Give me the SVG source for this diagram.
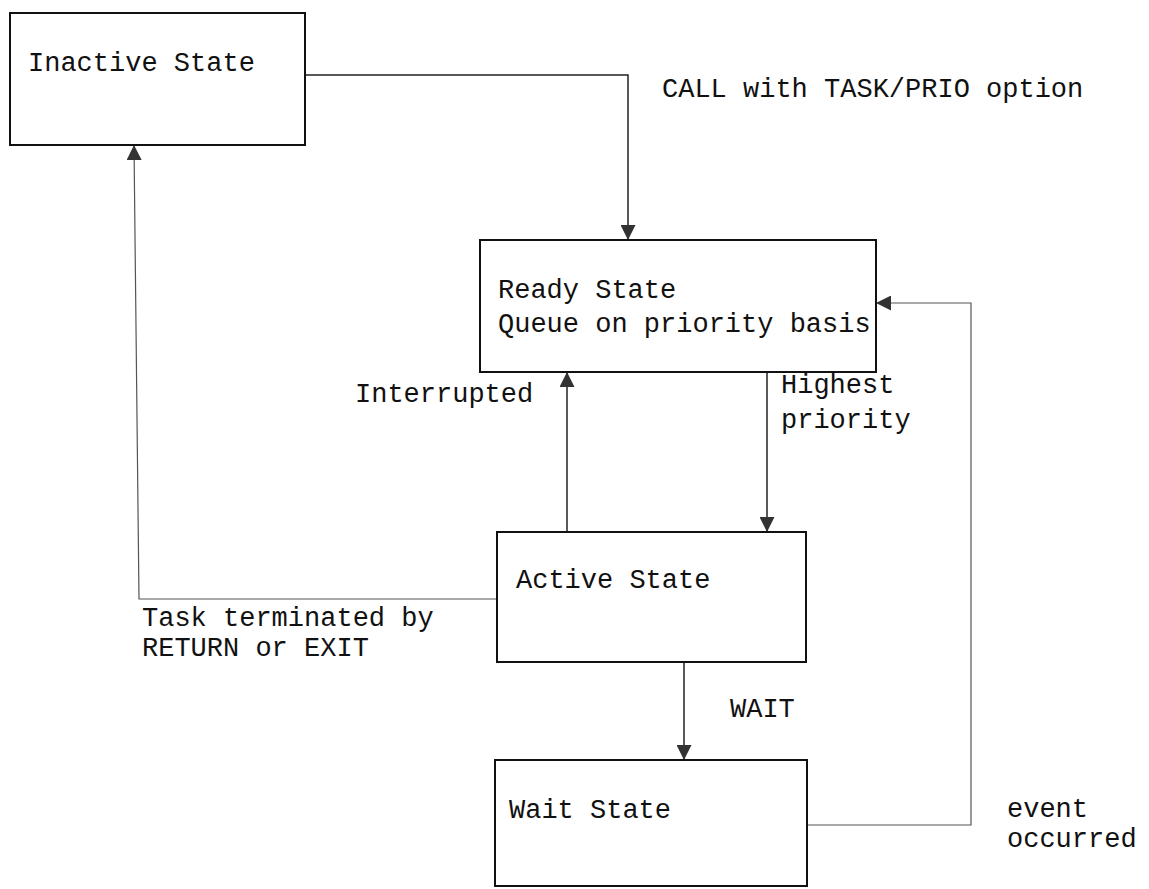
<svg xmlns="http://www.w3.org/2000/svg" width="1149" height="889" viewBox="0 0 1149 889">
<style>
.box{fill:#fff;stroke:#111;stroke-width:2}
.t{font-family:"Liberation Mono","DejaVu Sans Mono",monospace;font-size:27px;fill:#111}
.c{fill:none;stroke:#222;stroke-width:1.5}
.f{fill:none;stroke:#555;stroke-width:1.2}
</style>
<defs>
<marker id="ah" viewBox="0 0 10 10" refX="10" refY="5" markerUnits="userSpaceOnUse" markerWidth="17" markerHeight="15" orient="auto">
<path d="M0,0 L10,5 L0,10 z" fill="#333"/>
</marker>
</defs>
<rect width="1149" height="889" fill="#fff"/>
<g id="connectors">
<path class="c" d="M305,75 H628 V240" marker-end="url(#ah)"/>
<path class="c" d="M767,372 V532" marker-end="url(#ah)"/>
<path class="c" d="M567,532 V372" marker-end="url(#ah)"/>
<path class="c" d="M684,662 V760" marker-end="url(#ah)"/>
<path class="f" d="M807,825 H971 V303 H876" marker-end="url(#ah)"/>
<path class="f" d="M497,599 H139 L134,145" marker-end="url(#ah)"/>
<text class="t" x="662" y="97">CALL with TASK/PRIO option</text>
<text class="t" x="355" y="402">Interrupted</text>
<text class="t" x="781" y="393">Highest</text>
<text class="t" x="781" y="428">priority</text>
<text class="t" x="142" y="626">Task terminated by</text>
<text class="t" x="142" y="656">RETURN or EXIT</text>
<text class="t" x="730" y="717">WAIT</text>
<text class="t" x="1007" y="817">event</text>
<text class="t" x="1007" y="847">occurred</text>
</g>
<g id="inactive">
<rect class="box" x="10" y="13" width="295" height="132"/>
<text class="t" x="28" y="71">Inactive State</text>
</g>
<g id="ready">
<rect class="box" x="480" y="240" width="396" height="132"/>
<text class="t" x="498" y="298">Ready State</text>
<text class="t" x="498" y="332">Queue on priority basis</text>
</g>
<g id="active">
<rect class="box" x="497" y="532" width="309" height="130"/>
<text class="t" x="516" y="588">Active State</text>
</g>
<g id="wait">
<rect class="box" x="495" y="760" width="312" height="126"/>
<text class="t" x="509" y="818">Wait State</text>
</g>
</svg>
